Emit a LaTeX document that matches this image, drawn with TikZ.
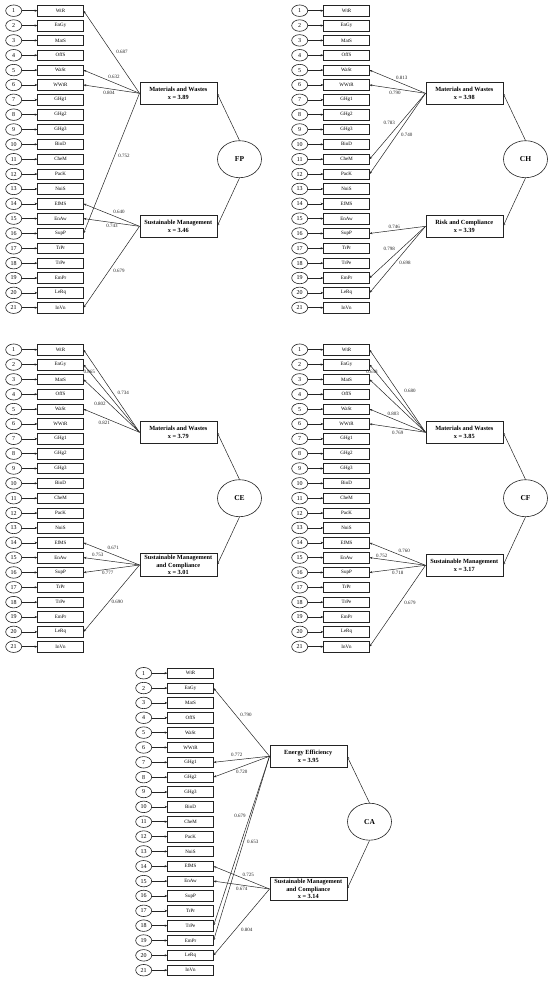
\documentclass[tikz,border=0pt]{standalone}
\usepackage{fontspec}
\setmainfont{Liberation Serif}
\usetikzlibrary{
    shapes.geometric,
    arrows.meta,
    positioning
}
\definecolor{Cline}{RGB}{35, 35, 35}
\tikzset{
    numc/.style={
        ellipse, draw=Cline, line width=0.6pt, fill=white,
        minimum width=16pt, minimum height=11.5pt, inner sep=0pt,
        font=\fontsize{6}{6}\selectfont
    },
    indbox/.style={
        rectangle, draw=Cline, line width=0.6pt, fill=white,
        minimum width=45.5pt, minimum height=10.5pt, inner sep=0pt,
        font=\fontsize{5}{5}\selectfont
    },
    facbox/.style={
        rectangle, draw=Cline, line width=0.6pt, fill=white,
        minimum width=77pt, minimum height=22pt, inner sep=1pt,
        align=center, font=\fontsize{6.3}{7.4}\bfseries\selectfont
    },
    latent/.style={
        ellipse, draw=Cline, line width=0.6pt,
        minimum width=44pt, minimum height=37pt, inner sep=0pt,
        font=\fontsize{7.5}{7.5}\bfseries\selectfont
    },
    iarr/.style={-{Stealth[length=2.8pt, width=2.2pt]}, line width=0.5pt, Cline},
    wlab/.style={font=\fontsize{5}{5}\selectfont, inner sep=0.3pt, text=Cline},
}
\newcommand{\indcolumn}[1]{%
    \foreach \lbl [count=\k] in {WtR,EnGy,MatS,OffS,WaSt,WWtR,GHg1,GHg2,GHg3,BioD,CheM,PacK,NoiS,EfMS,EnAw,SupP,TrPr,TrPe,EmPr,LeRq,InVn} {
        \node[numc] (#1c\k) at (13.7, {10.7+(\k-1)*14.85}) {\k};
        \node[indbox] (#1b\k) at (60.5, {10.7+(\k-1)*14.85}) {\lbl};
        \draw[iarr] (#1c\k) -- (#1b\k);
    }%
}

\begin{document}
\begin{tikzpicture}[x=1pt, y=-1pt]

    \useasboundingbox (0,0) rectangle (550,983);

    % FP
    \begin{scope}[shift={(0,0)}]
        \indcolumn{fp}
        \node[facbox] (fpmw) at (178.3,93.3) {Materials and Wastes\\x = 3.89};
        \node[facbox] (fpsm) at (178.3,226.3) {Sustainable Management\\x = 3.46};
        \node[latent] (fp) at (239.5,159.2) {FP};
        \draw[iarr] (fp.north) -- (fpmw.east);
        \draw[iarr] (fp.south) -- (fpsm.east);
        \foreach \t/\lx/\ly/\w in {1/122/52/0.687, 5/114/77/0.632, 6/109/93.3/0.804, 16/124/156/0.752} {
            \draw[iarr] (fpmw.west) -- (fpb\t.east);
            \node[wlab] (fpw\t) at (\lx,\ly) {\w};
        }
        \foreach \t/\lx/\ly/\w in {14/119/212/0.640, 15/112/226/0.743, 21/119/271/0.679} {
            \draw[iarr] (fpsm.west) -- (fpb\t.east);
            \node[wlab] (fpw\t) at (\lx,\ly) {\w};
        }
    \end{scope}

    % CH
    \begin{scope}[shift={(286,0)}]
        \indcolumn{ch}
        \node[facbox] (chmw) at (178.3,93.3) {Materials and Wastes\\x = 3.98};
        \node[facbox] (chrc) at (178.3,226.3) {Risk and Compliance\\x = 3.39};
        \node[latent] (ch) at (239.5,159.2) {CH};
        \draw[iarr] (ch.north) -- (chmw.east);
        \draw[iarr] (ch.south) -- (chrc.east);
        \foreach \t/\lx/\ly/\w in {5/115.7/77.7/0.813, 6/109/92.7/0.790, 11/103.3/123.3/0.783, 12/120.7/135/0.740} {
            \draw[iarr] (chmw.west) -- (chb\t.east);
            \node[wlab] (chw\t) at (\lx,\ly) {\w};
        }
        \foreach \t/\lx/\ly/\w in {16/108.3/226.7/0.746, 19/103.3/249.3/0.798, 20/119/263.3/0.698} {
            \draw[iarr] (chrc.west) -- (chb\t.east);
            \node[wlab] (chw\t) at (\lx,\ly) {\w};
        }
    \end{scope}

    % CE
    \begin{scope}[shift={(0,339)}]
        \indcolumn{ce}
        \node[facbox] (cemw) at (178.3,93.3) {Materials and Wastes\\x = 3.79};
        \node[facbox, minimum height=23.5pt] (cesm) at (178.3,226) {Sustainable Management\\and Compliance\\x = 3.01};
        \node[latent] (ce) at (239.5,159.2) {CE};
        \draw[iarr] (ce.north) -- (cemw.east);
        \draw[iarr] (ce.south) -- (cesm.east);
        \foreach \t/\lx/\ly/\w in {2/89.3/32.7/0.865, 1/123.3/53.7/0.734, 3/100/65/0.802, 5/104.3/83.7/0.821} {
            \node[wlab] (cew\t) at (\lx,\ly) {\w};
            \draw[iarr] (cemw.west) -- (ceb\t.east);
        }
        \foreach \t/\lx/\ly/\w in {14/113.3/209.3/0.671, 15/97.7/216/0.753, 16/107.7/233.7/0.777, 20/117.3/262.7/0.690} {
            \draw[iarr] (cesm.west) -- (ceb\t.east);
            \node[wlab] (cew\t) at (\lx,\ly) {\w};
        }
    \end{scope}

    % CF
    \begin{scope}[shift={(286,339)}]
        \indcolumn{cf}
        \node[facbox] (cfmw) at (178.3,93.3) {Materials and Wastes\\x = 3.85};
        \node[facbox] (cfsm) at (178.3,226.3) {Sustainable Management\\x = 3.17};
        \node[latent] (cf) at (239.5,159.2) {CF};
        \draw[iarr] (cf.north) -- (cfmw.east);
        \draw[iarr] (cf.south) -- (cfsm.east);
        \foreach \t/\lx/\ly/\w in {2/86/32.7/0.658, 1/124/52/0.680, 5/107.3/75/0.803, 6/111.7/93.7/0.769} {
            \node[wlab] (cfw\t) at (\lx,\ly) {\w};
            \draw[iarr] (cfmw.west) -- (cfb\t.east);
        }
        \draw[iarr] (cfmw.west) -- (cfb3.east);
        \foreach \t/\lx/\ly/\w in {14/118.3/212/0.760, 15/95.7/217/0.752, 16/111.7/233.7/0.718, 21/124/264.3/0.679} {
            \draw[iarr] (cfsm.west) -- (cfb\t.east);
            \node[wlab] (cfw\t) at (\lx,\ly) {\w};
        }
    \end{scope}

    % CA
    \begin{scope}[shift={(130,662.5)}]
        \indcolumn{ca}
        \node[facbox] (caee) at (178.3,93.7) {Energy Efficiency\\x = 3.95};
        \node[facbox, minimum height=23.5pt] (casm) at (178.3,226.5) {Sustainable Management\\and Compliance\\x = 3.14};
        \node[latent] (ca) at (239.5,159.2) {CA};
        \draw[iarr] (ca.north) -- (caee.east);
        \draw[iarr] (ca.south) -- (casm.east);
        \foreach \t/\lx/\ly/\w in {2/116/52.3/0.790, 7/106.7/92.3/0.772, 8/111.7/109.7/0.720, 18/110/153.3/0.679, 19/122.7/179/0.653} {
            \draw[iarr] (caee.west) -- (cab\t.east);
            \node[wlab] (caw\t) at (\lx,\ly) {\w};
        }
        \foreach \t/\lx/\ly/\w in {14/118.3/212.3/0.725, 15/111.7/226.3/0.674, 20/116.7/267.3/0.804} {
            \draw[iarr] (casm.west) -- (cab\t.east);
            \node[wlab] (caw\t) at (\lx,\ly) {\w};
        }
    \end{scope}

\end{tikzpicture}
\end{document}
